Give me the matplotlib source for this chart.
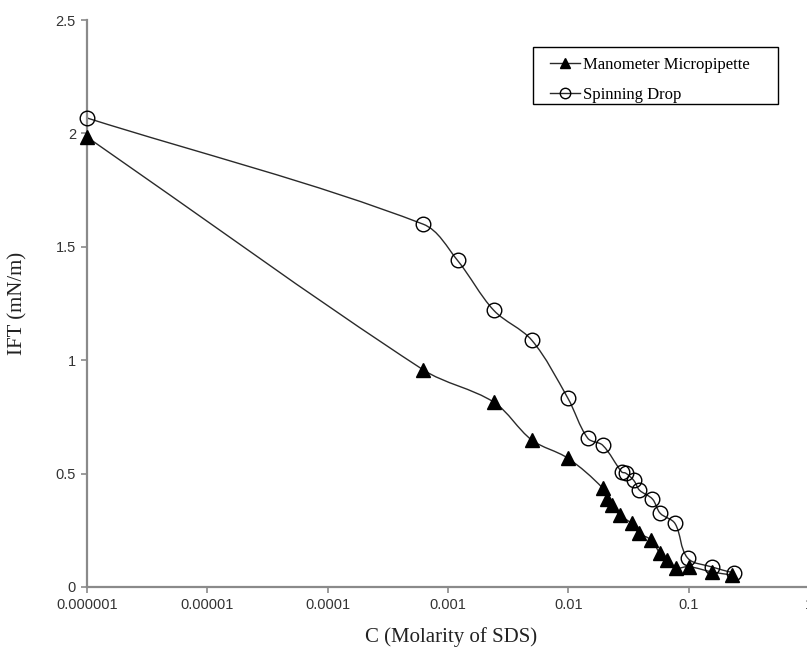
import matplotlib
matplotlib.use('Agg')
import matplotlib.pyplot as plt
import numpy as np
from matplotlib.path import Path
from matplotlib.patches import PathPatch, Rectangle
from matplotlib.lines import Line2D

# IFT vs SDS concentration, two measurement methods
c_mano = [1e-6, 6.2e-4, 2.4e-3, 4.97e-3, 9.9e-3, 0.0193, 0.0208, 0.023, 0.0267,
          0.0336, 0.0385, 0.049, 0.0575, 0.066, 0.078, 0.1, 0.157, 0.23]
ift_mano = [1.984, 0.958, 0.815, 0.648, 0.568, 0.436, 0.39, 0.36, 0.317,
            0.28, 0.238, 0.207, 0.15, 0.12, 0.084, 0.09, 0.066, 0.053]

c_spin = [1e-6, 6.2e-4, 1.2e-3, 2.4e-3, 4.97e-3, 9.9e-3, 0.0145, 0.0193, 0.0278,
          0.03, 0.035, 0.039, 0.05, 0.058, 0.077, 0.098, 0.157, 0.236]
ift_spin = [2.068, 1.60, 1.44, 1.22, 1.088, 0.833, 0.656, 0.625, 0.507,
            0.502, 0.47, 0.427, 0.388, 0.325, 0.28, 0.128, 0.088, 0.062]

xticks = [1e-6, 1e-5, 1e-4, 1e-3, 1e-2, 1e-1, 1]
xticklabels = ['0.000001', '0.00001', '0.0001', '0.001', '0.01', '0.1', '1']
yticks = [0, 0.5, 1, 1.5, 2, 2.5]
yticklabels = ['0', '0.5', '1', '1.5', '2', '2.5']

# pixel scale of a decade / one mN/m, used for the curve smoothing
SX, SY = 120.4, 227.0


def smooth_path(x, y):
    # smoothed line: cubic Beziers with tangents along neighbour chords,
    # handle length one third of the segment (worked in log-x screen units)
    px = np.log10(x) * SX
    py = np.asarray(y, float) * SY
    P = np.column_stack([px, py])
    n = len(P)
    tang = np.zeros_like(P)
    for i in range(n):
        d = P[min(i + 1, n - 1)] - P[max(i - 1, 0)]
        tang[i] = d / np.hypot(*d)
    verts = [(x[0], y[0])]
    codes = [Path.MOVETO]
    for i in range(n - 1):
        L = np.hypot(*(P[i + 1] - P[i])) / 3
        c1 = P[i] + tang[i] * L
        c2 = P[i + 1] - tang[i + 1] * L
        verts += [(10 ** (c1[0] / SX), c1[1] / SY),
                  (10 ** (c2[0] / SX), c2[1] / SY),
                  (x[i + 1], y[i + 1])]
        codes += [Path.CURVE4] * 3
    return Path(verts, codes)


fig = plt.figure(figsize=(8.07, 6.52), dpi=100)
ax = fig.add_axes([87 / 807, 1 - 587 / 652, 722 / 807, 567 / 652])
ax.set_xscale('log')
ax.set_xlim(1e-6, 1)
ax.set_ylim(0, 2.5)

line_kw = dict(color='#2a2a2a', lw=1.0)
for cx, cy in [(c_mano, ift_mano), (c_spin, ift_spin)]:
    ax.add_patch(PathPatch(smooth_path(cx, cy), fill=False, transform=ax.transData,
                           clip_on=False, **line_kw))

ax.plot(c_spin, ift_spin, 'o', ms=10.5, mfc='none', mec='black', mew=1.0, clip_on=False, zorder=3)
ax.plot(c_mano, ift_mano, '^', ms=9.5, mfc='black', mec='black', clip_on=False, zorder=4)

for s in ['top', 'right']:
    ax.spines[s].set_visible(False)
for s in ['left', 'bottom']:
    ax.spines[s].set_color('#8a8a8a')
    ax.spines[s].set_linewidth(1.6)

ax.set_xticks(xticks)
ax.set_xticklabels(xticklabels)
ax.xaxis.set_minor_locator(matplotlib.ticker.NullLocator())
ax.set_yticks(yticks)
ax.set_yticklabels(yticklabels)
ax.tick_params(direction='out', length=4, width=1.2, color='#8a8a8a',
               labelsize=10.5, labelcolor='#333333', pad=4)
for lab in ax.get_xticklabels() + ax.get_yticklabels():
    lab.set_family('Liberation Sans')

ax.set_xlabel('C (Molarity of SDS)', family='Liberation Serif', fontsize=15, color='#222222',
              va='center', ha='center')
ax.set_ylabel('IFT (mN/m)', family='Liberation Serif', fontsize=15, color='#222222',
              va='center', ha='center')
ax.xaxis.set_label_coords(0.504, -0.088)
ax.yaxis.set_label_coords(-0.0956, 0.5)

handles = [Line2D([], [], color='#2a2a2a', lw=1.0, marker='^', ms=7, mfc='black', mec='black'),
           Line2D([], [], color='#2a2a2a', lw=1.0, marker='o', ms=7.5, mfc='none', mec='black')]
leg = fig.legend(handles, ['Manometer Micropipette', 'Spinning Drop'],
                 loc='center left', bbox_to_anchor=(550 / 807, 1 - 80 / 652),
                 prop={'family': 'Liberation Serif', 'size': 12},
                 frameon=False, handlelength=1.8, handletextpad=0.2,
                 borderpad=0, labelspacing=0.8, borderaxespad=0)
# legend frame, a bit wider than matplotlib's padding gives
fig.add_artist(Rectangle((533 / 807, 1 - 104 / 652), 245 / 807, 57 / 652,
                         transform=fig.transFigure, fill=False,
                         edgecolor='black', lw=1.0))

fig.savefig('out.png', dpi=100)
